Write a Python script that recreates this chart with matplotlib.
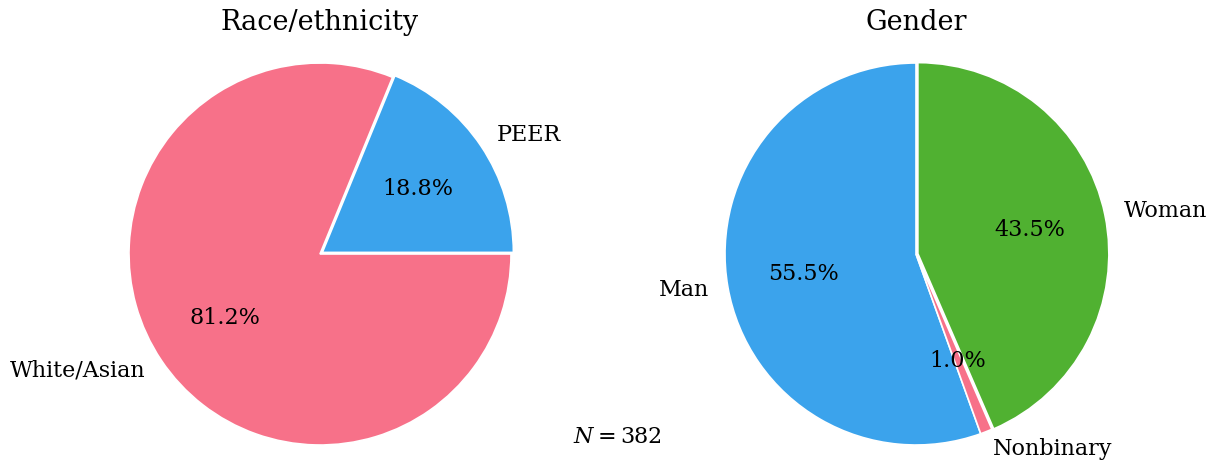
import matplotlib
matplotlib.use("Agg")
import matplotlib.pyplot as plt
import seaborn as sns

race_labels = ["PEER", "White/Asian"]
race_values = [18.8, 81.2]
gender_labels = ["Man", "Nonbinary", "Woman"]
gender_values = [55.5, 1.0, 43.5]
n_total = 382

pal = sns.color_palette("husl", 3)
pink, green, blue = pal[0], pal[1], pal[2]

plt.rcParams['font.family'] = ['DejaVu Serif']
plt.rcParams['mathtext.fontset'] = 'dejavuserif'

W, H = 1211, 462
fig = plt.figure(figsize=(W / 100, H / 100), dpi=100)

R = 191.0
lim = 1.3
size = 2 * lim * R

def make_ax(cx, cy_top):
    cy = H - cy_top
    ax = fig.add_axes([(cx - size / 2) / W, (cy - size / 2) / H, size / W, size / H])
    return ax

lab_fs = 16
title_fs = 19.5

ax1 = make_ax(320, 254)
ax1.pie(race_values, labels=race_labels, colors=[blue, pink], autopct='%1.1f%%',
        explode=[0.015, 0], startangle=0, counterclock=True,
        wedgeprops=dict(edgecolor='white', linewidth=1.2),
        textprops=dict(fontsize=lab_fs))
ax1.set_xlim(-lim, lim)
ax1.set_ylim(-lim, lim)
ax1.set_title("Race/ethnicity", fontsize=title_fs, y=1 - 24 / size, pad=0)

ax2 = make_ax(916, 254)
ax2.pie(gender_values, labels=gender_labels, colors=[blue, pink, green], autopct='%1.1f%%',
        explode=[0, 0, 0.01], startangle=90, counterclock=True,
        wedgeprops=dict(edgecolor='white', linewidth=1.2),
        textprops=dict(fontsize=lab_fs))
ax2.set_xlim(-lim, lim)
ax2.set_ylim(-lim, lim)
ax2.set_title("Gender", fontsize=title_fs, y=1 - 24 / size, pad=0)

fig.text(617 / W, 1 - 437 / H, r"$N = %d$" % n_total, fontsize=16, ha='center', va='center')

fig.savefig("out.png", dpi=100)
